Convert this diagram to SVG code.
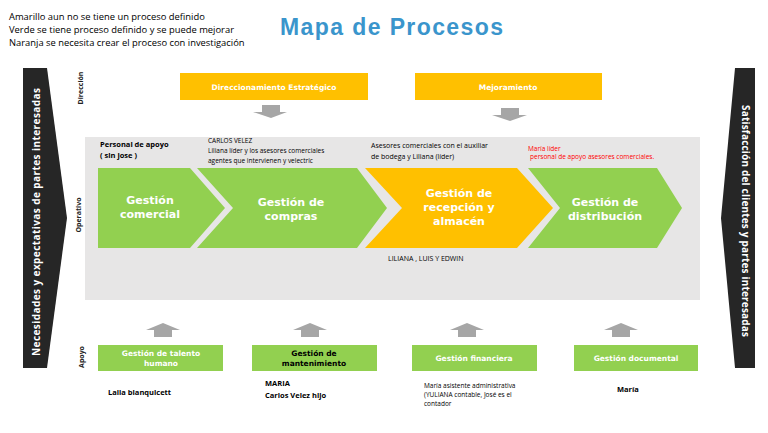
<svg xmlns="http://www.w3.org/2000/svg" width="768" height="433" viewBox="0 0 768 433">
<style>
.legend{font-family:"Open Sans","Liberation Sans",sans-serif;font-size:9.4px;fill:#000}
.title{font-family:"Liberation Sans",Arial,sans-serif;font-size:23px;font-weight:bold;fill:#3a95cc}
.green{fill:#92d050}
.orange{fill:#ffc000}
.gray{fill:#a6a6a6}
.dark{fill:#262626}
.chev{font-family:"DejaVu Sans",Verdana,sans-serif;font-size:11px;font-weight:bold;fill:#fff;text-anchor:middle}
.box{font-family:"DejaVu Sans",Verdana,sans-serif;font-size:7.5px;font-weight:bold;fill:#fff;text-anchor:middle}
.boxk{fill:#000}
.side{font-family:"Open Sans","Liberation Sans",sans-serif;font-size:7px;font-weight:bold;fill:#222;text-anchor:middle}
.big{font-family:"Open Sans","Liberation Sans",sans-serif;font-size:10px;font-weight:bold;fill:#fff;text-anchor:middle}
.note{font-family:"Open Sans","Liberation Sans",sans-serif;font-size:6.5px;fill:#000}
.note7{font-size:7px}
.noteb{font-family:"Open Sans","Liberation Sans",sans-serif;font-size:7.5px;font-weight:bold;fill:#000}
.red{fill:#ff0000}
</style>
<rect width="768" height="433" fill="#fff"/>
<g id="legend">
<text class="legend" x="9" y="20">Amarillo aun no se tiene un proceso definido</text>
<text class="legend" x="9" y="33">Verde se tiene proceso definido y se puede mejorar</text>
<text class="legend" x="9" y="46">Naranja se necesita crear el proceso con investigación</text>
</g>
<text class="title" x="280" y="35" textLength="223">Mapa de Procesos</text>
<rect x="85" y="137" width="615" height="163" fill="#e7e6e6"/>
<g id="left-arrow">
<polygon class="dark" points="23,68 47,68 67,218 47,368 23,368"/>
<text class="big" transform="translate(40,222) rotate(-90)" textLength="268">Necesidades y expectativas de partes interesadas</text>
</g>
<g id="right-arrow">
<polygon class="dark" points="735,68 755,68 755,368 735,368 721,218"/>
<text class="big" transform="translate(742,221) rotate(90)" textLength="232">Satisfacción del clientes y partes interesadas</text>
</g>
<g id="side-labels">
<text class="side" transform="translate(83,88) rotate(-90)">Dirección</text>
<text class="side" transform="translate(81,215) rotate(-90)">Operativo</text>
<text class="side" transform="translate(84,357) rotate(-90)">Apoyo</text>
</g>
<g id="connectors">
<polygon class="gray" points="262,105 280,105 280,112 287,112 271,118 253,112 262,112"/>
<polygon class="gray" points="501,108 519,108 519,115 527,115 510,121 492,115 501,115"/>
<polygon class="gray" points="163,323 180,330 172,330 172,337 154,337 154,330 146,330"/>
<polygon class="gray" points="310,323 327,330 319,330 319,337 301,337 301,330 293,330"/>
<polygon class="gray" points="467,323 484,330 476,330 476,337 458,337 458,330 450,330"/>
<polygon class="gray" points="621,323 638,330 630,330 630,337 612,337 612,330 604,330"/>
</g>
<g id="direccionamiento">
<rect class="orange" x="180" y="73" width="188" height="27"/>
<text class="box" x="274" y="89.5">Direccionamiento Estratégico</text>
</g>
<g id="mejoramiento">
<rect class="orange" x="415" y="73" width="187" height="27"/>
<text class="box" x="508" y="89.5">Mejoramiento</text>
</g>
<g id="comercial">
<polygon class="green" points="98,168 190,168 225,208 190,248 98,248"/>
<text class="chev" x="150" y="204">Gestión</text>
<text class="chev" x="150" y="218">comercial</text>
</g>
<g id="compras">
<polygon class="green" points="197,168 357,168 387,208 357,248 197,248 233,208"/>
<text class="chev" x="291" y="206">Gestión de</text>
<text class="chev" x="291" y="220">compras</text>
</g>
<g id="recepcion">
<polygon class="orange" points="365,168 517,168 553,208 517,248 365,248 402,208"/>
<text class="chev" x="459" y="197">Gestión de</text>
<text class="chev" x="459" y="211">recepción y</text>
<text class="chev" x="459" y="225">almacén</text>
</g>
<g id="distribucion">
<polygon class="green" points="528,168 657,168 682,208 657,248 528,248 560,208"/>
<text class="chev" x="605" y="206">Gestión de</text>
<text class="chev" x="605" y="220">distribución</text>
</g>
<g id="talento">
<rect class="green" x="98" y="345" width="125" height="26"/>
<text class="box" x="161" y="356">Gestión de talento</text>
<text class="box" x="161" y="366">humano</text>
</g>
<g id="mantenimiento">
<rect class="green" x="252" y="345" width="125" height="26"/>
<text class="box boxk" x="314" y="356">Gestión de</text>
<text class="box boxk" x="314" y="366">mantenimiento</text>
</g>
<g id="financiera">
<rect class="green" x="412" y="345" width="125" height="26"/>
<text class="box" x="474" y="361">Gestión financiera</text>
</g>
<g id="documental">
<rect class="green" x="574" y="345" width="124" height="26"/>
<text class="box" x="636" y="361">Gestión documental</text>
</g>
<g id="notes">
<text class="noteb" x="100" y="147">Personal de apoyo</text>
<text class="noteb" x="100" y="158">( sin jose )</text>
<text class="note" x="208" y="143">CARLOS VELEZ</text>
<text class="note" x="208" y="153">Liliana líder  y los asesores comerciales</text>
<text class="note" x="208" y="163">agentes que intervienen y velectric</text>
<text class="note note7" x="371" y="148">Asesores comerciales con el auxiliar</text>
<text class="note note7" x="371" y="159">de bodega y Liliana (líder)</text>
<text class="note red" x="528" y="151">María líder</text>
<text class="note red" x="530" y="159">personal de apoyo asesores comerciales.</text>
<text class="note note7" x="388" y="261">LILIANA , LUIS Y EDWIN</text>
<text class="noteb" x="108" y="395">Lalia blanquicett</text>
<text class="noteb" x="265" y="386">MARIA</text>
<text class="noteb" x="265" y="398">Carlos Velez hijo</text>
<text class="note" x="424" y="388">María asistente administrativa</text>
<text class="note" x="424" y="397">(YULIANA  contable, José  es el</text>
<text class="note" x="424" y="406">contador</text>
<text class="noteb" x="617" y="392">María</text>
</g>
</svg>
